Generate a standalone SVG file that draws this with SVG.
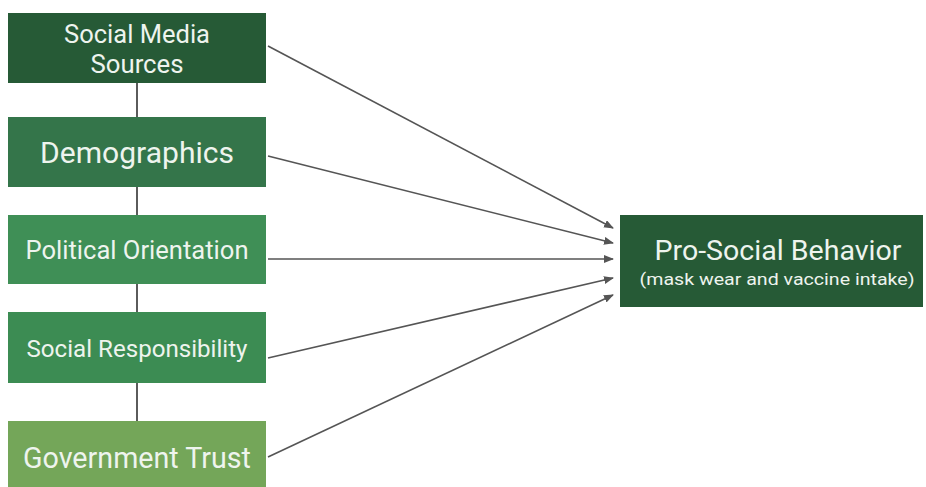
<svg xmlns="http://www.w3.org/2000/svg" width="926" height="487" viewBox="0 0 926 487">
<style>
text{font-family:Roboto,"Liberation Sans",sans-serif;fill:#eef4ee;text-anchor:middle;dominant-baseline:central}
.c{stroke:#555;stroke-width:1.6;fill:none}
.v{stroke:#333;stroke-width:1.6}
</style>
<defs>
<marker id="ah" markerWidth="10" markerHeight="8" refX="9" refY="4" orient="auto" markerUnits="userSpaceOnUse">
<path d="M0,0 L10,4 L0,8 z" fill="#555"/>
</marker>
</defs>
<rect width="926" height="487" fill="#fff"/>
<g id="connectors">
<line class="v" x1="137" y1="83" x2="137" y2="117"/>
<line class="v" x1="137" y1="187" x2="137" y2="215"/>
<line class="v" x1="137" y1="284" x2="137" y2="312"/>
<line class="v" x1="137" y1="383" x2="137" y2="421"/>
<line class="c" x1="268" y1="46" x2="613" y2="228" marker-end="url(#ah)"/>
<line class="c" x1="268" y1="156" x2="613" y2="243" marker-end="url(#ah)"/>
<line class="c" x1="268" y1="259" x2="613" y2="259" marker-end="url(#ah)"/>
<line class="c" x1="268" y1="358" x2="613" y2="278" marker-end="url(#ah)"/>
<line class="c" x1="268" y1="457" x2="613" y2="295" marker-end="url(#ah)"/>
</g>
<g id="social-media">
<rect x="8" y="13" width="258" height="70" fill="#265a36"/>
<text x="137" y="34" font-size="25" textLength="146" lengthAdjust="spacingAndGlyphs">Social Media</text>
<text x="137" y="64" font-size="25" textLength="93" lengthAdjust="spacingAndGlyphs">Sources</text>
</g>
<g id="demographics">
<rect x="8" y="117" width="258" height="70" fill="#34754a"/>
<text x="137" y="153" font-size="29" textLength="194" lengthAdjust="spacingAndGlyphs">Demographics</text>
</g>
<g id="political">
<rect x="8" y="215" width="258" height="69" fill="#3f8f56"/>
<text x="137" y="250" font-size="25" textLength="223" lengthAdjust="spacingAndGlyphs">Political Orientation</text>
</g>
<g id="responsibility">
<rect x="8" y="312" width="258" height="71" fill="#3c8c53"/>
<text x="137" y="348" font-size="24.5" textLength="221" lengthAdjust="spacingAndGlyphs">Social Responsibility</text>
</g>
<g id="trust">
<rect x="8" y="421" width="258" height="70" fill="#74a659"/>
<text x="137" y="458" font-size="29" textLength="228" lengthAdjust="spacingAndGlyphs">Government Trust</text>
</g>
<g id="prosocial">
<rect x="620" y="215" width="303" height="92" fill="#265a36"/>
<text x="778" y="250" font-size="28" textLength="247" lengthAdjust="spacingAndGlyphs">Pro-Social Behavior</text>
<text x="777" y="279" font-size="17" textLength="275" lengthAdjust="spacingAndGlyphs">(mask wear and vaccine intake)</text>
</g>
</svg>
